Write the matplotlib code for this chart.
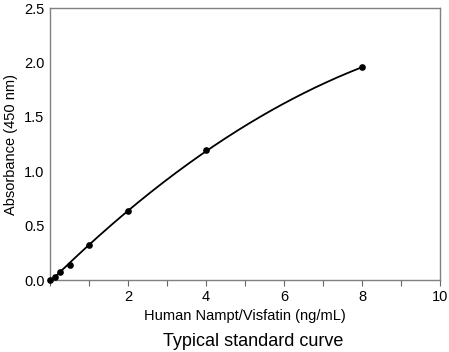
import matplotlib
matplotlib.use("Agg")
import matplotlib.pyplot as plt
import numpy as np

plt.rcParams['font.family'] = ['Liberation Sans', 'DejaVu Sans']

# standard points
conc = [0, 0.125, 0.25, 0.5, 1, 2, 4, 8]
absorb = [0.0, 0.03, 0.07, 0.14, 0.32, 0.63, 1.195, 1.955]
xticks = [2, 4, 6, 8, 10]
yticks = [0.0, 0.5, 1.0, 1.5, 2.0, 2.5]

# quadratic fit through the standards for the curve
coef = np.polyfit(conc, absorb, 2)
xs = np.linspace(min(conc), max(conc), 200)

fig = plt.figure(figsize=(4.49, 3.52), dpi=100)
ax = fig.add_axes([0.1114, 0.2045, 0.869, 0.7725])

ax.plot(xs, np.polyval(coef, xs), color='black', lw=1.3, zorder=2)
ax.plot(conc, absorb, 'o', color='black', ms=3.8, zorder=3, clip_on=False)

ax.set_xlim(0, 10)
ax.set_ylim(0, 2.5)
ax.set_xticks(xticks)
ax.set_xticks(range(0, 11), minor=True)
ax.set_yticks(yticks)
ax.set_yticklabels(['%.1f' % v for v in yticks])
ax.tick_params(axis='x', which='both', direction='out', length=4, width=0.8,
               color='#666666', labelsize=10.5, pad=3)
ax.tick_params(axis='y', length=0, labelsize=10.5, pad=4)
for s in ax.spines.values():
    s.set_color('#808080')
    s.set_linewidth(1.0)

ax.set_xlabel('Human Nampt/Visfatin (ng/mL)', fontsize=10.5, labelpad=4)
ax.set_ylabel('Absorbance (450 nm)', fontsize=10.5, labelpad=4)
fig.text(0.563, 0.018, 'Typical standard curve', fontsize=13, ha='center')

fig.savefig('out.png', dpi=100)
